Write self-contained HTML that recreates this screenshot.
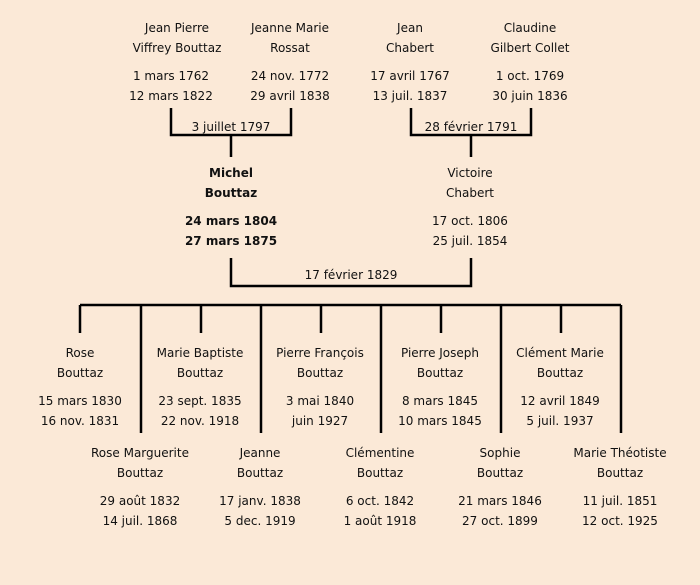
<!DOCTYPE html>
<html><head><meta charset="utf-8"><style>
html,body{margin:0;padding:0;background:#fbe9d7;}
svg{display:block}
text{font-family:"DejaVu Sans","Liberation Sans",sans-serif;font-size:12px;fill:#111;text-anchor:middle}
.b{font-weight:bold}
</style></head><body>
<svg width="700" height="585" viewBox="0 0 700 585" xmlns="http://www.w3.org/2000/svg">
<rect width="700" height="585" fill="#fbe9d7"/>
<g stroke="#000" stroke-width="2.5" fill="none">
<path d="M171,108V135H291V108M231,135V157"/>
<path d="M411,108V135H531V108M471,135V157"/>
<path d="M231,258V286H471V258"/>
<path d="M80,305H621"/>
<path d="M80,305V333M201,305V333M321,305V333M441,305V333M561,305V333"/>
<path d="M141,305V433M261,305V433M381,305V433M501,305V433M621,305V433"/>
</g>
<g>
<text x="177" y="32">Jean Pierre</text><text x="177" y="52">Viffrey Bouttaz</text>
<text x="171" y="80">1 mars 1762</text><text x="171" y="100">12 mars 1822</text>
<text x="290" y="32">Jeanne Marie</text><text x="290" y="52">Rossat</text>
<text x="290" y="80">24 nov. 1772</text><text x="290" y="100">29 avril 1838</text>
<text x="410" y="32">Jean</text><text x="410" y="52">Chabert</text>
<text x="410" y="80">17 avril 1767</text><text x="410" y="100">13 juil. 1837</text>
<text x="530" y="32">Claudine</text><text x="530" y="52">Gilbert Collet</text>
<text x="530" y="80">1 oct. 1769</text><text x="530" y="100">30 juin 1836</text>
<text x="231" y="131">3 juillet 1797</text>
<text x="471" y="131">28 février 1791</text>
<text class="b" x="231" y="177">Michel</text><text class="b" x="231" y="197">Bouttaz</text>
<text class="b" x="231" y="225">24 mars 1804</text><text class="b" x="231" y="245">27 mars 1875</text>
<text x="470" y="177">Victoire</text><text x="470" y="197">Chabert</text>
<text x="470" y="225">17 oct. 1806</text><text x="470" y="245">25 juil. 1854</text>
<text x="351" y="279">17 février 1829</text>

<text x="80" y="357">Rose</text><text x="80" y="377">Bouttaz</text>
<text x="80" y="405">15 mars 1830</text><text x="80" y="425">16 nov. 1831</text>
<text x="200" y="357">Marie Baptiste</text><text x="200" y="377">Bouttaz</text>
<text x="200" y="405">23 sept. 1835</text><text x="200" y="425">22 nov. 1918</text>
<text x="320" y="357">Pierre François</text><text x="320" y="377">Bouttaz</text>
<text x="320" y="405">3 mai 1840</text><text x="320" y="425">juin 1927</text>
<text x="440" y="357">Pierre Joseph</text><text x="440" y="377">Bouttaz</text>
<text x="440" y="405">8 mars 1845</text><text x="440" y="425">10 mars 1845</text>
<text x="560" y="357">Clément Marie</text><text x="560" y="377">Bouttaz</text>
<text x="560" y="405">12 avril 1849</text><text x="560" y="425">5 juil. 1937</text>

<text x="140" y="457">Rose Marguerite</text><text x="140" y="477">Bouttaz</text>
<text x="140" y="505">29 août 1832</text><text x="140" y="525">14 juil. 1868</text>
<text x="260" y="457">Jeanne</text><text x="260" y="477">Bouttaz</text>
<text x="260" y="505">17 janv. 1838</text><text x="260" y="525">5 dec. 1919</text>
<text x="380" y="457">Clémentine</text><text x="380" y="477">Bouttaz</text>
<text x="380" y="505">6 oct. 1842</text><text x="380" y="525">1 août 1918</text>
<text x="500" y="457">Sophie</text><text x="500" y="477">Bouttaz</text>
<text x="500" y="505">21 mars 1846</text><text x="500" y="525">27 oct. 1899</text>
<text x="620" y="457">Marie Théotiste</text><text x="620" y="477">Bouttaz</text>
<text x="620" y="505">11 juil. 1851</text><text x="620" y="525">12 oct. 1925</text>
</g>
</svg>
</body></html>
